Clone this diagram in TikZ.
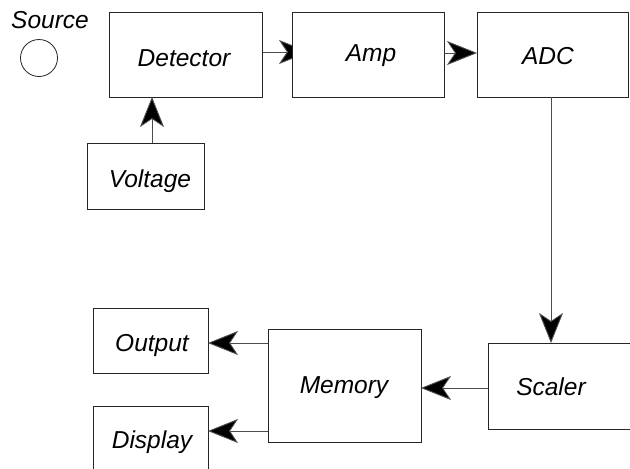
\documentclass[tikz,border=0pt]{standalone}
\usepackage{fontspec}
\setmainfont{Liberation Sans}
\usetikzlibrary{arrows.meta}
\pgfdeclarelayer{background}
\pgfsetlayers{background,main}
\begin{document}
\begin{tikzpicture}[x=1pt,y=-1pt,
  blk/.style={draw=black!85, line width=0.9pt, fill=white},
  lbl/.style={font=\fontsize{24.5}{28}\selectfont\itshape, inner sep=0pt},
  conn/.style={draw=black!70, line width=0.9pt, -{Stealth[length=30pt,width=24pt,inset=8pt,fill=black]}}
]
\useasboundingbox (0,0) rectangle (630,469);
\clip (0,0) rectangle (630,469);
% boxes
\draw[blk] (109,12) rectangle (262,97);
\node[lbl] (det) at (184,58) {Detector};
\draw[blk] (87,143) rectangle (204,209);
\node[lbl] (volt) at (150,181) {Voltage};
\draw[blk] (477,12) rectangle (628,97);
\node[lbl] (adc) at (548,56) {ADC};
\draw[blk] (93,308) rectangle (208,373);
\node[lbl] (out) at (152,345) {Output};
\draw[blk] (93,406) rectangle (208,480);
\node[lbl] (disp) at (152,442) {Display};
\draw[blk] (268,329) rectangle (421,442);
\node[lbl] (mem) at (344,388) {Memory};
\draw[blk] (488,343) rectangle (650,429);
\node[lbl] (scal) at (551,387) {Scaler};
% source
\node[lbl] (src) at (50,20) {Source};
\node[draw=black!85, line width=0.8pt, circle, minimum size=37pt, inner sep=0pt] (circ) at (39,58) {};
% named anchor coordinates on box edges
\coordinate (detE) at (262,52);
\coordinate (detS) at (152,97);
\coordinate (voltN) at (152,143);
\coordinate (ampHidden) at (309,52);
\coordinate (ampE) at (444,53);
\coordinate (adcW) at (477,53);
\coordinate (adcS) at (551,97);
\coordinate (scalN) at (551,343);
\coordinate (scalW) at (488,388);
\coordinate (memE) at (421,388);
\coordinate (memW1) at (268,343);
\coordinate (memW2) at (268,431);
\coordinate (outE) at (208,343);
\coordinate (dispE) at (208,431);
% detector -> amp (tip hidden behind amp box)
\begin{pgfonlayer}{background}
\draw[conn] (detE) -- (ampHidden);
\end{pgfonlayer}
\draw[blk] (292,12) rectangle (444,97);
\node[lbl] (amp) at (371,56) {Amp};
% connectors
\draw[conn] (voltN) -- (detS);
\draw[conn] (ampE) -- (adcW);
\draw[conn] (adcS) -- (scalN);
\draw[conn] (scalW) -- (memE);
\draw[conn] (memW1) -- (outE);
\draw[conn] (memW2) -- (dispE);
\end{tikzpicture}
\end{document}
